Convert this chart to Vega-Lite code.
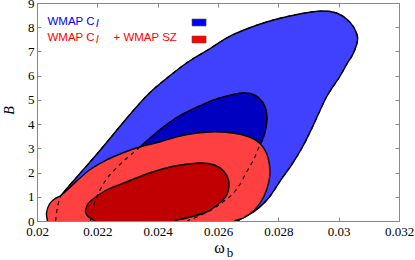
{
  "$schema": "https://vega.github.io/schema/vega-lite/v6.json",
  "width": 362,
  "height": 218,
  "autosize": "none",
  "padding": {"left": 37, "top": 3, "right": 16, "bottom": 39},
  "background": "white",
  "config": {
    "view": {"stroke": "#888888", "strokeWidth": 1},
    "axis": {"grid": false, "domain": false, "tickColor": "#888888", "labelFont": "Liberation Serif", "labelFontSize": 13, "labelColor": "black", "labelFlush": false, "labelOverlap": false}
  },
  "datasets": {
    "c": [
      {"g": "b1", "i": 1, "x": 0.020547, "y": -0.289},
      {"g": "b1", "i": 2, "x": 0.020613, "y": 0},
      {"g": "b1", "i": 3, "x": 0.020646, "y": 0.330},
      {"g": "b1", "i": 4, "x": 0.020713, "y": 0.743},
      {"g": "b1", "i": 5, "x": 0.020812, "y": 1.073},
      {"g": "b1", "i": 6, "x": 0.021409, "y": 1.941},
      {"g": "b1", "i": 7, "x": 0.022072, "y": 2.890},
      {"g": "b1", "i": 8, "x": 0.023066, "y": 4.377},
      {"g": "b1", "i": 9, "x": 0.023729, "y": 5.285},
      {"g": "b1", "i": 10, "x": 0.024392, "y": 5.987},
      {"g": "b1", "i": 11, "x": 0.025055, "y": 6.606},
      {"g": "b1", "i": 12, "x": 0.025718, "y": 7.102},
      {"g": "b1", "i": 13, "x": 0.026481, "y": 7.680},
      {"g": "b1", "i": 14, "x": 0.027608, "y": 8.216},
      {"g": "b1", "i": 15, "x": 0.028702, "y": 8.547},
      {"g": "b1", "i": 16, "x": 0.029464, "y": 8.671},
      {"g": "b1", "i": 17, "x": 0.029928, "y": 8.588},
      {"g": "b1", "i": 18, "x": 0.030260, "y": 8.340},
      {"g": "b1", "i": 19, "x": 0.030492, "y": 8.010},
      {"g": "b1", "i": 20, "x": 0.030625, "y": 7.597},
      {"g": "b1", "i": 21, "x": 0.030591, "y": 7.267},
      {"g": "b1", "i": 22, "x": 0.030459, "y": 6.854},
      {"g": "b1", "i": 23, "x": 0.030293, "y": 6.524},
      {"g": "b1", "i": 24, "x": 0.030028, "y": 5.945},
      {"g": "b1", "i": 25, "x": 0.029597, "y": 5.120},
      {"g": "b1", "i": 26, "x": 0.029133, "y": 3.881},
      {"g": "b1", "i": 27, "x": 0.028801, "y": 3.055},
      {"g": "b1", "i": 28, "x": 0.028437, "y": 2.312},
      {"g": "b1", "i": 29, "x": 0.028105, "y": 1.734},
      {"g": "b1", "i": 30, "x": 0.027707, "y": 0.991},
      {"g": "b1", "i": 31, "x": 0.027310, "y": 0.495},
      {"g": "b1", "i": 32, "x": 0.026945, "y": 0.206},
      {"g": "b1", "i": 33, "x": 0.026647, "y": 0},
      {"g": "b1", "i": 34, "x": 0.026448, "y": -0.289},
      {"g": "b1", "i": 35, "x": 0.023398, "y": -0.8},

      {"g": "b2", "i": 1, "x": 0.021740, "y": -0.289},
      {"g": "b2", "i": 2, "x": 0.021774, "y": 0},
      {"g": "b2", "i": 3, "x": 0.021807, "y": 0.372},
      {"g": "b2", "i": 4, "x": 0.021906, "y": 0.743},
      {"g": "b2", "i": 5, "x": 0.022006, "y": 1.073},
      {"g": "b2", "i": 6, "x": 0.022238, "y": 1.610},
      {"g": "b2", "i": 7, "x": 0.022470, "y": 1.982},
      {"g": "b2", "i": 8, "x": 0.022834, "y": 2.436},
      {"g": "b2", "i": 9, "x": 0.023298, "y": 2.931},
      {"g": "b2", "i": 10, "x": 0.024061, "y": 3.757},
      {"g": "b2", "i": 11, "x": 0.024658, "y": 4.294},
      {"g": "b2", "i": 12, "x": 0.025387, "y": 4.748},
      {"g": "b2", "i": 13, "x": 0.026050, "y": 5.078},
      {"g": "b2", "i": 14, "x": 0.026812, "y": 5.285},
      {"g": "b2", "i": 15, "x": 0.027210, "y": 5.202},
      {"g": "b2", "i": 16, "x": 0.027475, "y": 4.913},
      {"g": "b2", "i": 17, "x": 0.027608, "y": 4.500},
      {"g": "b2", "i": 18, "x": 0.027608, "y": 3.964},
      {"g": "b2", "i": 19, "x": 0.027508, "y": 3.468},
      {"g": "b2", "i": 20, "x": 0.027343, "y": 3.014},
      {"g": "b2", "i": 21, "x": 0.027177, "y": 2.519},
      {"g": "b2", "i": 22, "x": 0.026945, "y": 2.023},
      {"g": "b2", "i": 23, "x": 0.026713, "y": 1.486},
      {"g": "b2", "i": 24, "x": 0.026448, "y": 1.073},
      {"g": "b2", "i": 25, "x": 0.026116, "y": 0.743},
      {"g": "b2", "i": 26, "x": 0.025718, "y": 0.413},
      {"g": "b2", "i": 27, "x": 0.025221, "y": 0.124},
      {"g": "b2", "i": 28, "x": 0.024989, "y": 0},
      {"g": "b2", "i": 29, "x": 0.024823, "y": -0.289},
      {"g": "b2", "i": 30, "x": 0.023398, "y": -0.8},

      {"g": "r1", "i": 1, "x": 0.020414, "y": -0.289},
      {"g": "r1", "i": 2, "x": 0.020348, "y": 0},
      {"g": "r1", "i": 3, "x": 0.020315, "y": 0.330},
      {"g": "r1", "i": 4, "x": 0.020414, "y": 0.702},
      {"g": "r1", "i": 5, "x": 0.020580, "y": 0.908},
      {"g": "r1", "i": 6, "x": 0.020812, "y": 1.073},
      {"g": "r1", "i": 7, "x": 0.021177, "y": 1.486},
      {"g": "r1", "i": 8, "x": 0.021740, "y": 2.106},
      {"g": "r1", "i": 9, "x": 0.022304, "y": 2.519},
      {"g": "r1", "i": 10, "x": 0.022834, "y": 2.808},
      {"g": "r1", "i": 11, "x": 0.023398, "y": 3.055},
      {"g": "r1", "i": 12, "x": 0.024061, "y": 3.262},
      {"g": "r1", "i": 13, "x": 0.024890, "y": 3.551},
      {"g": "r1", "i": 14, "x": 0.025718, "y": 3.675},
      {"g": "r1", "i": 15, "x": 0.026481, "y": 3.633},
      {"g": "r1", "i": 16, "x": 0.027044, "y": 3.468},
      {"g": "r1", "i": 17, "x": 0.027376, "y": 3.220},
      {"g": "r1", "i": 18, "x": 0.027608, "y": 2.808},
      {"g": "r1", "i": 19, "x": 0.027707, "y": 2.312},
      {"g": "r1", "i": 20, "x": 0.027707, "y": 1.775},
      {"g": "r1", "i": 21, "x": 0.027608, "y": 1.280},
      {"g": "r1", "i": 22, "x": 0.027442, "y": 0.826},
      {"g": "r1", "i": 23, "x": 0.027177, "y": 0.413},
      {"g": "r1", "i": 24, "x": 0.026845, "y": 0.124},
      {"g": "r1", "i": 25, "x": 0.026547, "y": 0},
      {"g": "r1", "i": 26, "x": 0.026381, "y": -0.289},
      {"g": "r1", "i": 27, "x": 0.023398, "y": -0.8},

      {"g": "r2", "i": 1, "x": 0.022006, "y": -0.289},
      {"g": "r2", "i": 2, "x": 0.021906, "y": 0},
      {"g": "r2", "i": 3, "x": 0.021707, "y": 0.165},
      {"g": "r2", "i": 4, "x": 0.021608, "y": 0.372},
      {"g": "r2", "i": 5, "x": 0.021641, "y": 0.578},
      {"g": "r2", "i": 6, "x": 0.021774, "y": 0.826},
      {"g": "r2", "i": 7, "x": 0.022304, "y": 1.280},
      {"g": "r2", "i": 8, "x": 0.022967, "y": 1.610},
      {"g": "r2", "i": 9, "x": 0.023729, "y": 1.982},
      {"g": "r2", "i": 10, "x": 0.024558, "y": 2.271},
      {"g": "r2", "i": 11, "x": 0.025387, "y": 2.395},
      {"g": "r2", "i": 12, "x": 0.025884, "y": 2.312},
      {"g": "r2", "i": 13, "x": 0.026183, "y": 2.065},
      {"g": "r2", "i": 14, "x": 0.026348, "y": 1.693},
      {"g": "r2", "i": 15, "x": 0.026348, "y": 1.280},
      {"g": "r2", "i": 16, "x": 0.026249, "y": 0.991},
      {"g": "r2", "i": 17, "x": 0.026050, "y": 0.743},
      {"g": "r2", "i": 18, "x": 0.025619, "y": 0.372},
      {"g": "r2", "i": 19, "x": 0.024956, "y": 0.124},
      {"g": "r2", "i": 20, "x": 0.024558, "y": 0},
      {"g": "r2", "i": 21, "x": 0.024392, "y": -0.289},
      {"g": "r2", "i": 22, "x": 0.023232, "y": -0.8}
    ]
  },
  "layer": [
    {
      "data": {"name": "c"},
      "transform": [{"filter": "datum.g == 'b1'"}],
      "mark": {"type": "line", "interpolate": "cardinal-closed", "fill": "#4040ff", "stroke": "black", "strokeWidth": 1.4, "clip": true},
      "encoding": {
        "x": {"field": "x", "type": "quantitative", "scale": {"domain": [0.02, 0.032], "nice": false, "zero": false},
              "axis": {"orient": "bottom", "values": [0.02, 0.022, 0.024, 0.026, 0.028, 0.03, 0.032], "format": "~g", "tickSize": -4, "labelPadding": 8, "labelFont": "Liberation Serif", "labelFontSize": 13, "title": null}},
        "y": {"field": "y", "type": "quantitative", "scale": {"domain": [0, 9], "nice": false, "zero": false},
              "axis": {"orient": "left", "values": [0, 1, 2, 3, 4, 5, 6, 7, 8, 9], "tickSize": -4, "labelPadding": 7, "labelFont": "Liberation Serif", "labelFontSize": 13, "title": "B", "titleFont": "Liberation Serif", "titleFontStyle": "italic", "titleFontWeight": "normal", "titleFontSize": 14, "titleColor": "black", "titleX": -28, "titleY": 107, "titleAngle": -90, "titleBaseline": "middle", "titleAlign": "center"}},
        "order": {"field": "i", "type": "quantitative"}
      }
    },
    {
      "data": {"name": "c"},
      "transform": [{"filter": "datum.g == 'b2'"}],
      "mark": {"type": "line", "interpolate": "cardinal-closed", "fill": "#0000c0", "stroke": "black", "strokeWidth": 1.4, "clip": true},
      "encoding": {
        "x": {"field": "x", "type": "quantitative", "scale": {"domain": [0.02, 0.032], "nice": false, "zero": false}, "axis": null},
        "y": {"field": "y", "type": "quantitative", "scale": {"domain": [0, 9], "nice": false, "zero": false}, "axis": null},
        "order": {"field": "i", "type": "quantitative"}
      }
    },
    {
      "data": {"name": "c"},
      "transform": [{"filter": "datum.g == 'r1'"}],
      "mark": {"type": "line", "interpolate": "cardinal-closed", "fill": "#ff4040", "stroke": "black", "strokeWidth": 1.4, "clip": true},
      "encoding": {
        "x": {"field": "x", "type": "quantitative", "scale": {"domain": [0.02, 0.032], "nice": false, "zero": false}, "axis": null},
        "y": {"field": "y", "type": "quantitative", "scale": {"domain": [0, 9], "nice": false, "zero": false}, "axis": null},
        "order": {"field": "i", "type": "quantitative"}
      }
    },
    {
      "data": {"name": "c"},
      "transform": [{"filter": "datum.g == 'r2'"}],
      "mark": {"type": "line", "interpolate": "cardinal-closed", "fill": "#c00000", "stroke": "black", "strokeWidth": 1.4, "clip": true},
      "encoding": {
        "x": {"field": "x", "type": "quantitative", "scale": {"domain": [0.02, 0.032], "nice": false, "zero": false}, "axis": null},
        "y": {"field": "y", "type": "quantitative", "scale": {"domain": [0, 9], "nice": false, "zero": false}, "axis": null},
        "order": {"field": "i", "type": "quantitative"}
      }
    },
    {
      "data": {"name": "c"},
      "transform": [{"filter": "datum.g == 'b1' || datum.g == 'b2'"}],
      "mark": {"type": "line", "interpolate": "cardinal-closed", "stroke": "black", "strokeWidth": 1.2, "strokeDash": [4, 4], "clip": true},
      "encoding": {
        "x": {"field": "x", "type": "quantitative", "scale": {"domain": [0.02, 0.032], "nice": false, "zero": false},
              "axis": {"orient": "top", "values": [0.02, 0.022, 0.024, 0.026, 0.028, 0.03, 0.032], "labels": false, "tickSize": -4, "title": null}},
        "y": {"field": "y", "type": "quantitative", "scale": {"domain": [0, 9], "nice": false, "zero": false},
              "axis": {"orient": "right", "values": [0, 1, 2, 3, 4, 5, 6, 7, 8, 9], "labels": false, "tickSize": -4, "title": null}},
        "detail": {"field": "g"},
        "order": {"field": "i", "type": "quantitative"}
      }
    },
    {
      "data": {"values": [
        {"x": 0.020348, "y": 8.216, "t": "WMAP C"}
      ]},
      "mark": {"type": "text", "align": "left", "baseline": "middle", "font": "Liberation Sans", "fontSize": 11.5, "color": "#0000ff"},
      "encoding": {
        "x": {"field": "x", "type": "quantitative", "scale": {"domain": [0.02, 0.032], "nice": false, "zero": false}, "axis": null},
        "y": {"field": "y", "type": "quantitative", "scale": {"domain": [0, 9], "nice": false, "zero": false}, "axis": null},
        "text": {"field": "t"}
      }
    },
    {
      "data": {"values": [
        {"x": 0.021956, "y": 8.134, "t": "l"}
      ]},
      "mark": {"type": "text", "align": "left", "baseline": "middle", "font": "Liberation Sans", "fontSize": 11, "fontStyle": "italic", "color": "#0000ff"},
      "encoding": {
        "x": {"field": "x", "type": "quantitative", "scale": {"domain": [0.02, 0.032], "nice": false, "zero": false}, "axis": null},
        "y": {"field": "y", "type": "quantitative", "scale": {"domain": [0, 9], "nice": false, "zero": false}, "axis": null},
        "text": {"field": "t"}
      }
    },
    {
      "data": {"values": [
        {"x": 0.020348, "y": 7.556, "t": "WMAP C"},
        {"x": 0.022536, "y": 7.556, "t": "+ WMAP SZ"}
      ]},
      "mark": {"type": "text", "align": "left", "baseline": "middle", "font": "Liberation Sans", "fontSize": 11.5, "color": "#ff0000"},
      "encoding": {
        "x": {"field": "x", "type": "quantitative", "scale": {"domain": [0.02, 0.032], "nice": false, "zero": false}, "axis": null},
        "y": {"field": "y", "type": "quantitative", "scale": {"domain": [0, 9], "nice": false, "zero": false}, "axis": null},
        "text": {"field": "t"}
      }
    },
    {
      "data": {"values": [
        {"x": 0.021956, "y": 7.473, "t": "l"}
      ]},
      "mark": {"type": "text", "align": "left", "baseline": "middle", "font": "Liberation Sans", "fontSize": 11, "fontStyle": "italic", "color": "#ff0000"},
      "encoding": {
        "x": {"field": "x", "type": "quantitative", "scale": {"domain": [0.02, 0.032], "nice": false, "zero": false}, "axis": null},
        "y": {"field": "y", "type": "quantitative", "scale": {"domain": [0, 9], "nice": false, "zero": false}, "axis": null},
        "text": {"field": "t"}
      }
    },
    {
      "data": {"values": [
        {"x0": 0.025139, "x1": 0.025605, "y0": 8.051, "y1": 8.340, "k": "WMAP Cl"},
        {"x0": 0.025139, "x1": 0.025605, "y0": 7.349, "y1": 7.638, "k": "WMAP Cl + WMAP SZ"}
      ]},
      "mark": {"type": "rect", "stroke": "#555555", "strokeWidth": 0.6},
      "encoding": {
        "x": {"field": "x0", "type": "quantitative", "scale": {"domain": [0.02, 0.032], "nice": false, "zero": false}, "axis": null},
        "x2": {"field": "x1"},
        "y": {"field": "y0", "type": "quantitative", "scale": {"domain": [0, 9], "nice": false, "zero": false}, "axis": null},
        "y2": {"field": "y1"},
        "fill": {"field": "k", "type": "nominal", "scale": {"domain": ["WMAP Cl", "WMAP Cl + WMAP SZ"], "range": ["#0000ff", "#ff0000"]}, "legend": null}
      }
    },
    {
      "data": {"values": [
        {"x": 0.026050, "y": -1.115, "t": "ω"}
      ]},
      "mark": {"type": "text", "align": "center", "baseline": "middle", "font": "Liberation Serif", "fontSize": 16, "color": "black"},
      "encoding": {
        "x": {"field": "x", "type": "quantitative", "scale": {"domain": [0.02, 0.032], "nice": false, "zero": false}, "axis": null},
        "y": {"field": "y", "type": "quantitative", "scale": {"domain": [0, 9], "nice": false, "zero": false}, "axis": null},
        "text": {"field": "t"}
      }
    },
    {
      "data": {"values": [
        {"x": 0.026398, "y": -1.321, "t": "b"}
      ]},
      "mark": {"type": "text", "align": "center", "baseline": "middle", "font": "Liberation Serif", "fontSize": 13, "color": "black"},
      "encoding": {
        "x": {"field": "x", "type": "quantitative", "scale": {"domain": [0.02, 0.032], "nice": false, "zero": false}, "axis": null},
        "y": {"field": "y", "type": "quantitative", "scale": {"domain": [0, 9], "nice": false, "zero": false}, "axis": null},
        "text": {"field": "t"}
      }
    }
  ],
  "resolve": {"axis": {"x": "independent", "y": "independent"}}
}
